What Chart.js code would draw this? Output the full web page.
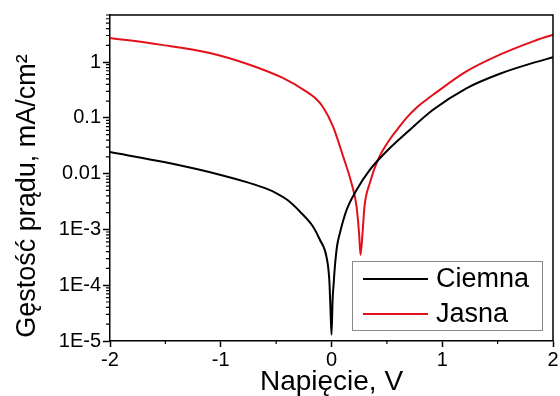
<!DOCTYPE html>
<html>
<head>
<meta charset="utf-8">
<script src="https://cdn.jsdelivr.net/npm/chart.js@4.4.0/dist/chart.umd.min.js"></script>
<style>
  html, body { margin: 0; padding: 0; background: #fff; }
  #wrap { width: 560px; height: 396px; }
</style>
</head>
<body>
<div id="wrap"><canvas id="ivChart"></canvas></div>
<script>
// dark curve (Ciemna)
const darkVoltage = [-2, -1.5, -1, -0.75, -0.6, -0.5, -0.4, -0.286, -0.166, -0.106, -0.045, -0.02, -0.01, 0, 0.01, 0.02, 0.03, 0.05, 0.075, 0.135, 0.226, 0.346, 0.496, 0.677, 0.917, 1.218, 1.52, 1.82, 2];
const darkCurrent = [0.0244, 0.016, 0.0095, 0.0069, 0.0055, 0.0045, 0.0034, 0.0021, 0.00112, 0.00066, 0.00032, 0.000126, 0.000042, 0.000013, 0.000055, 0.00011, 0.00021, 0.0005, 0.00085, 0.0022, 0.0051, 0.0117, 0.025, 0.054, 0.14, 0.34, 0.62, 0.97, 1.22];

// illuminated curve (Jasna)
const lightVoltage = [-2, -1.55, -1.1, -0.74, -0.44, -0.23, -0.15, -0.08, 0.014, 0.105, 0.18, 0.226, 0.249, 0.262, 0.28, 0.298, 0.346, 0.42, 0.526, 0.6, 0.677, 0.76, 0.857, 0.917, 1.218, 1.52, 1.82, 2];
const lightCurrent = [2.72, 2.06, 1.46, 0.9, 0.52, 0.3, 0.23, 0.16, 0.07, 0.0204, 0.0068, 0.0026, 0.00085, 0.00035, 0.00085, 0.0026, 0.0068, 0.0178, 0.041, 0.064, 0.1, 0.148, 0.212, 0.26, 0.68, 1.36, 2.36, 3.12];

const seriesLabels = ["Ciemna", "Jasna"];
const seriesColors = ["#000000", "#e3101a"];

const xTickValues = [-2, -1, 0, 1, 2];
const xMinorValues = [-1.5, -0.5, 0.5, 1.5];
const yTickValues = [1e-5, 1e-4, 1e-3, 0.01, 0.1, 1];
const yTickLabels = ["1E-5", "1E-4", "1E-3", "0.01", "0.1", "1"];

const FONT = "'Liberation Sans', Arial, sans-serif";

function toPoints(xs, ys) {
  return xs.map((x, i) => ({ x: x, y: ys[i] }));
}

// frame, minor ticks, y title and legend box
const extrasPlugin = {
  id: "extras",
  afterDraw(chart) {
    const ctx = chart.ctx;
    const area = chart.chartArea;
    const xs = chart.scales.x;
    const ys = chart.scales.y;

    ctx.save();
    ctx.strokeStyle = "#000";
    ctx.lineWidth = 1.5;
    ctx.beginPath();
    ctx.moveTo(area.left, area.top);
    ctx.lineTo(area.right, area.top);
    ctx.lineTo(area.right, area.bottom);
    ctx.stroke();

    // minor ticks
    ctx.lineWidth = 1.2;
    ctx.beginPath();
    xMinorValues.forEach(v => {
      const px = xs.getPixelForValue(v);
      ctx.moveTo(px, area.bottom);
      ctx.lineTo(px, area.bottom + 3);
    });
    for (let e = -5; e <= 0; e++) {
      for (let m = 2; m <= 9; m++) {
        const v = m * Math.pow(10, e);
        if (v > ys.max) break;
        const py = ys.getPixelForValue(v);
        ctx.moveTo(area.left - 4, py);
        ctx.lineTo(area.left, py);
      }
    }
    ctx.stroke();

    // y title
    ctx.fillStyle = "#000";
    ctx.font = "27px " + FONT;
    ctx.textAlign = "center";
    ctx.textBaseline = "middle";
    ctx.translate(28, 196);
    ctx.rotate(-Math.PI / 2);
    ctx.fillText("Gęstość prądu, mA/cm²", 0, 0);
    ctx.restore();

    // legend
    ctx.save();
    const bx = 352, by = 261, bw = 190, bh = 69;
    ctx.fillStyle = "#fff";
    ctx.fillRect(bx, by, bw, bh);
    ctx.strokeStyle = "#8a8a8a";
    ctx.lineWidth = 1;
    ctx.strokeRect(bx + 0.5, by + 0.5, bw, bh);
    ctx.font = "27px " + FONT;
    ctx.textAlign = "left";
    ctx.textBaseline = "middle";
    chart.data.datasets.forEach((ds, i) => {
      const ly = by + 18 + i * 35;
      ctx.strokeStyle = ds.borderColor;
      ctx.lineWidth = 2;
      ctx.beginPath();
      ctx.moveTo(bx + 11, ly);
      ctx.lineTo(bx + 76, ly);
      ctx.stroke();
      ctx.fillStyle = "#000";
      ctx.fillText(ds.label, bx + 84, ly + 1);
    });
    ctx.restore();
  }
};

new Chart(document.getElementById("ivChart"), {
  type: "line",
  data: {
    datasets: [
      {
        label: seriesLabels[0],
        data: toPoints(darkVoltage, darkCurrent),
        borderColor: seriesColors[0],
        borderWidth: 2,
        pointRadius: 0,
        cubicInterpolationMode: "monotone",
        fill: false
      },
      {
        label: seriesLabels[1],
        data: toPoints(lightVoltage, lightCurrent),
        borderColor: seriesColors[1],
        borderWidth: 2,
        pointRadius: 0,
        cubicInterpolationMode: "monotone",
        fill: false
      }
    ]
  },
  options: {
    responsive: true,
    maintainAspectRatio: false,
    animation: false,
    layout: { padding: { top: 15, right: 7, left: 0, bottom: 0 } },
    plugins: {
      legend: { display: false },
      tooltip: { enabled: false }
    },
    scales: {
      x: {
        type: "linear",
        min: -2,
        max: 2,
        afterBuildTicks: s => { s.ticks = xTickValues.map(v => ({ value: v })); },
        afterFit: s => { s.height = 55; },
        grid: { drawOnChartArea: false, tickLength: 6, color: "#000", tickWidth: 1.5 },
        border: { display: true, color: "#000", width: 1.5 },
        ticks: { color: "#000", padding: 1, maxRotation: 0, font: { family: FONT, size: 20 } },
        title: {
          display: true,
          text: "Napięcie, V",
          color: "#000",
          padding: { top: 0, bottom: 0 },
          font: { family: FONT, size: 28, lineHeight: 1.0 }
        }
      },
      y: {
        type: "logarithmic",
        min: 1e-5,
        max: 7,
        afterBuildTicks: s => { s.ticks = yTickValues.map(v => ({ value: v })); },
        afterFit: s => { s.width = 110; },
        grid: { drawOnChartArea: false, tickLength: 7, color: "#000", tickWidth: 1.5 },
        border: { display: true, color: "#000", width: 1.5 },
        ticks: {
          color: "#000",
          padding: 2,
          font: { family: FONT, size: 20 },
          callback: (v, i) => yTickLabels[i]
        }
      }
    }
  },
  plugins: [extrasPlugin]
});
</script>
</body>
</html>
